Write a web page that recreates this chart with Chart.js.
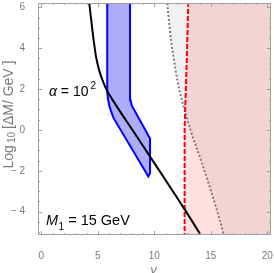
<!DOCTYPE html>
<html><head><meta charset="utf-8">
<script src="https://cdn.jsdelivr.net/npm/chart.js@4.4.1/dist/chart.umd.min.js"></script>
<style>html,body{margin:0;padding:0;background:#fff;overflow:hidden}#wrap{width:274px;height:273px}</style>
</head><body><div id="wrap"><canvas id="c" width="274" height="273"></canvas></div>
<script>
// ---- data ----
const xTicks = [0, 5, 10, 15, 20];
const xTickLabels = ['0', '5', '10', '15', '20'];
const yTicks = [-4, -2, 0, 2, 4, 6];
const yTickLabels = ['\u2212 4', '\u2212 2', '0', '2', '4', '6'];

// black solid curve (alpha = 10^2)
const blackGamma = [4.19, 4.24, 4.45, 4.65, 4.85, 5.10, 5.40, 5.78, 6.50, 8.0, 10.5, 12.7, 14.2];
const blackLog   = [6.5, 6.21, 5.20, 4.30, 3.55, 2.95, 2.45, 1.96, 1.30, 0.05, -2.04, -3.9, -5.22];

// blue band outline (closed)
const blueGamma = [5.83, 5.83, 5.90, 6.05, 6.37, 9.47, 9.62, 9.62, 8.0, 7.90, 7.85, 7.85, 5.83];
const blueLog   = [6.6, 1.85, 1.50, 1.10, 0.60, -2.28, -2.12, -0.42, 1.20, 1.45, 1.75, 6.6, 6.6];

// red dashed boundary
const redGamma = [13.05, 13.0, 12.87, 12.72, 12.68, 12.68];
const redLog   = [6.6, 6.21, 3.40, 0.80, 0.0, -5.6];

// gray dotted boundary
const grayGamma = [11.12, 11.15, 11.29, 11.47, 11.74, 12.03, 12.43, 12.72, 13.2, 14.2, 15.0, 15.53, 16.03, 16.15];
const grayLog   = [6.6, 6.21, 5.38, 4.40, 3.42, 2.45, 1.47, 0.91, 0.0, -1.6, -2.95, -3.91, -4.89, -5.2];

const xMin = -0.3, xMax = 20.33, yMin = -5.14, yMax = 6.21;
const farRight = 22, farTop = 7, farBottom = -6;

const pts = (xs, ys) => xs.map((x, i) => ({x: x, y: ys[i]}));
const pinkPoly = pts(redGamma, redLog).concat([{x: 12.68, y: farBottom}, {x: farRight, y: farBottom}, {x: farRight, y: farTop}, {x: redGamma[0], y: farTop}]);
const grayPoly = pts(grayGamma, grayLog).concat([{x: grayGamma[grayGamma.length-1], y: farBottom}, {x: farRight, y: farBottom}, {x: farRight, y: farTop}, {x: grayGamma[0], y: farTop}]);

const FONT = "'Liberation Sans', Arial, sans-serif";
const frameColor = '#a0a0a0';
const labelColor = '#7a7a7a';

const framePlugin = {
  id: 'frame',
  afterDraw(chart) {
    const ctx = chart.ctx, a = chart.chartArea;
    const xs = chart.scales.x, ys = chart.scales.y;
    ctx.save();
    ctx.strokeStyle = frameColor;
    ctx.lineWidth = 1;
    ctx.strokeRect(a.left + 0.5, a.top + 0.5, a.right - a.left - 1, a.bottom - a.top - 1);
    ctx.beginPath();
    for (let v = 0; v <= 20; v += 1) {
      const px = Math.round(xs.getPixelForValue(v)) + 0.5;
      const len = (v % 5 === 0) ? 4 : 2;
      ctx.moveTo(px, a.bottom); ctx.lineTo(px, a.bottom - len);
      ctx.moveTo(px, a.top); ctx.lineTo(px, a.top + len);
    }
    for (let v = -5; v <= 6; v += 0.5) {
      const py = Math.round(ys.getPixelForValue(v)) + 0.5;
      const len = (v % 2 === 0) ? 4 : 2;
      ctx.moveTo(a.left, py); ctx.lineTo(a.left + len, py);
      ctx.moveTo(a.right, py); ctx.lineTo(a.right - len, py);
    }
    ctx.stroke();

    // annotations
    ctx.fillStyle = '#000';
    ctx.textBaseline = 'alphabetic';
    ctx.textAlign = 'left';
    let x = 49, y = 96;
    ctx.font = 'italic 14px ' + FONT; ctx.fillText('\u03b1', x, y); x += ctx.measureText('\u03b1').width;
    ctx.font = '14px ' + FONT; ctx.fillText(' = 10', x, y); x += ctx.measureText(' = 10').width + 2;
    ctx.font = '10px ' + FONT; ctx.fillText('2', x, 89);

    x = 46; y = 225;
    ctx.font = 'italic 14.5px ' + FONT; ctx.fillText('M', x, y); x += ctx.measureText('M').width;
    ctx.font = '10px ' + FONT; ctx.fillText('1', x + 0.5, 230); x += ctx.measureText('1').width + 0.5;
    ctx.font = '14.5px ' + FONT; ctx.fillText(' = 15 GeV', x, y);

    // axis titles
    ctx.fillStyle = labelColor;
    ctx.font = 'italic 13px ' + FONT;
    ctx.textAlign = 'center';
    ctx.fillText('\u03b3', (a.left + a.right) / 2 - 1, 274);

    ctx.translate(12.5, 114.5);
    ctx.rotate(-Math.PI / 2);
    const p1 = 'Log', p2 = '10', p3 = '[\u0394M/ GeV ]';
    ctx.font = '14px ' + FONT; const w1 = ctx.measureText(p1).width;
    ctx.font = '10px ' + FONT; const w2 = ctx.measureText(p2).width;
    ctx.font = '14px ' + FONT; const w3 = ctx.measureText(p3).width;
    const tot = w1 + 2 + w2 + 3 + w3;
    ctx.textAlign = 'left';
    let t = -tot / 2;
    ctx.font = '14px ' + FONT; ctx.fillText(p1, t, 0); t += w1 + 2;
    ctx.font = '10px ' + FONT; ctx.fillText(p2, t, 2); t += w2 + 3;
    ctx.font = '14px ' + FONT; ctx.fillText(p3, t, 0);
    ctx.restore();
  }
};

new Chart(document.getElementById('c'), {
  type: 'scatter',
  data: {
    datasets: [
      {data: pts(blackGamma, blackLog), showLine: true, borderColor: '#000', borderWidth: 2, pointRadius: 0, cubicInterpolationMode: 'monotone', fill: false},
      {data: pts(blueGamma, blueLog), showLine: true, borderColor: '#0000ff', borderWidth: 2, pointRadius: 0, tension: 0, backgroundColor: 'rgb(172,172,248)', fill: 'shape'},
      {data: pts(redGamma, redLog), showLine: true, borderColor: '#ff0000', borderWidth: 2, borderDash: [5, 2], pointRadius: 0, tension: 0, fill: false},
      {data: pts(grayGamma, grayLog), showLine: true, borderColor: '#7a7a7a', borderWidth: 2, borderDash: [2, 2], pointRadius: 0, cubicInterpolationMode: 'monotone', fill: false},
      {data: pinkPoly, showLine: true, borderWidth: 0, borderColor: 'rgba(0,0,0,0)', pointRadius: 0, tension: 0, backgroundColor: 'rgba(255,0,0,0.12)', fill: 'shape'},
      {data: grayPoly, showLine: true, borderWidth: 0, borderColor: 'rgba(0,0,0,0)', pointRadius: 0, tension: 0, backgroundColor: 'rgba(0,0,0,0.055)', fill: 'shape'}
    ]
  },
  options: {
    responsive: false,
    animation: false,
    events: [],
    layout: {padding: {top: 3, right: 3, left: 0, bottom: 0}},
    plugins: {legend: {display: false}, tooltip: {enabled: false}},
    scales: {
      x: {
        type: 'linear', min: xMin, max: xMax,
        afterBuildTicks: s => { s.ticks = xTicks.map(v => ({value: v})); },
        afterFit: s => { s.height = 38; s.paddingLeft = 0; s.paddingRight = 0; },
        grid: {display: false}, border: {display: false},
        ticks: {autoSkip: false, maxRotation: 0, padding: 7, color: labelColor, font: {family: FONT, size: 10},
          callback: v => xTickLabels[xTicks.indexOf(v)]}
      },
      y: {
        type: 'linear', min: yMin, max: yMax,
        afterBuildTicks: s => { s.ticks = yTicks.map(v => ({value: v})); },
        afterFit: s => { s.width = 38; s.paddingTop = 0; s.paddingBottom = 0; },
        grid: {display: false}, border: {display: false},
        ticks: {autoSkip: false, padding: 5, color: labelColor, font: {family: FONT, size: 10},
          callback: v => yTickLabels[yTicks.indexOf(v)]}
      }
    }
  },
  plugins: [framePlugin]
});
</script></body></html>
